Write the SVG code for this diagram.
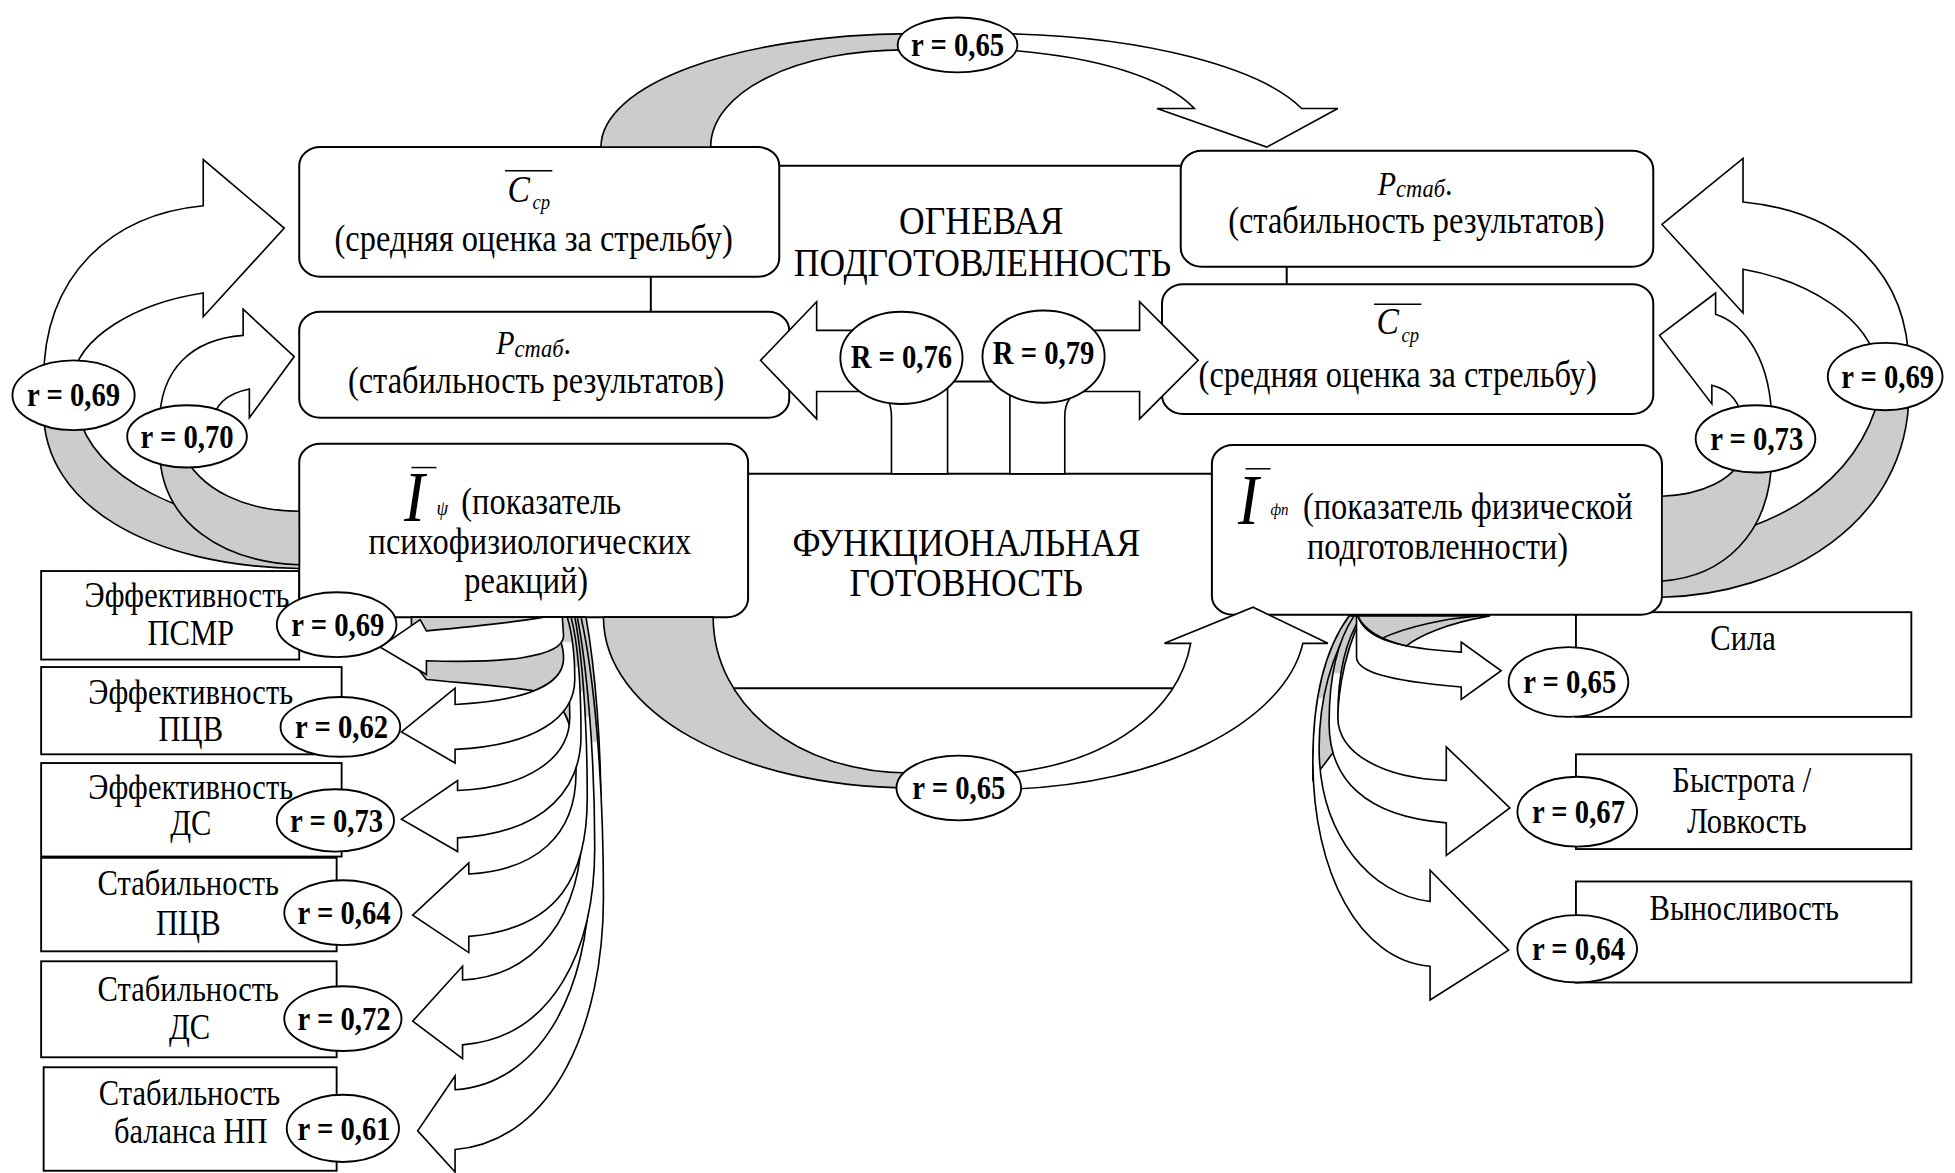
<svg xmlns="http://www.w3.org/2000/svg" width="1955" height="1173" viewBox="0 0 1955 1173">
<defs>
<style>
.box{fill:#fff;stroke:#000;stroke-width:1.6}
.rc{fill:#fff;stroke:#000;stroke-width:1.5}
.ln{fill:none;stroke:#000;stroke-width:1.6}
.ol{fill:none;stroke:#000;stroke-width:1.2}
.aw{fill:#fff;stroke:#000;stroke-width:1.3;stroke-linejoin:miter}
.ag{fill:#cccccc;stroke:#000;stroke-width:1.3}
.el{fill:#fff;stroke:#000;stroke-width:1.5}
text{font-family:"Liberation Serif","Times New Roman",serif;fill:#000}
.t{font-size:26px;text-anchor:middle}
.ts{font-size:26px}
.h{font-size:28.5px;text-anchor:middle}
.s{font-size:24.5px;text-anchor:middle}
.lb{font-size:23px;font-weight:bold;text-anchor:middle}
.i{font-style:italic}
</style>
<linearGradient id="gL2" gradientUnits="userSpaceOnUse" x1="0" y1="514" x2="0" y2="516"><stop offset="0" stop-color="#ccc"/><stop offset="1" stop-color="#fff"/></linearGradient>
<linearGradient id="gL3" gradientUnits="userSpaceOnUse" x1="0" y1="534" x2="0" y2="536"><stop offset="0" stop-color="#ccc"/><stop offset="1" stop-color="#fff"/></linearGradient>
<linearGradient id="gL4" gradientUnits="userSpaceOnUse" x1="0" y1="554" x2="0" y2="556"><stop offset="0" stop-color="#ccc"/><stop offset="1" stop-color="#fff"/></linearGradient>
<linearGradient id="gL5" gradientUnits="userSpaceOnUse" x1="0" y1="574" x2="0" y2="576"><stop offset="0" stop-color="#ccc"/><stop offset="1" stop-color="#fff"/></linearGradient>
<linearGradient id="gL6" gradientUnits="userSpaceOnUse" x1="0" y1="594" x2="0" y2="596"><stop offset="0" stop-color="#ccc"/><stop offset="1" stop-color="#fff"/></linearGradient>
<linearGradient id="gR2" gradientUnits="userSpaceOnUse" x1="0" y1="539" x2="0" y2="541"><stop offset="0" stop-color="#ccc"/><stop offset="1" stop-color="#fff"/></linearGradient>
<linearGradient id="gR3" gradientUnits="userSpaceOnUse" x1="0" y1="559" x2="0" y2="561"><stop offset="0" stop-color="#ccc"/><stop offset="1" stop-color="#fff"/></linearGradient>
</defs>
<rect width="1955" height="1173" fill="#fff"/>
<g transform="scale(1.2468)">

<!-- side boxes left -->
<g id="n-psmr"><rect class="rc" x="33" y="458" width="207" height="71"/>
<text class="s" transform="matrix(1 0 0 1.15 150 487)">Эффективность</text>
<text class="s" transform="matrix(1 0 0 1.15 153 517)">ПСМР</text></g>
<g id="n-pcv"><rect class="rc" x="33" y="535" width="241" height="70"/>
<text class="s" transform="matrix(1 0 0 1.15 153 565)">Эффективность</text>
<text class="s" transform="matrix(1 0 0 1.15 153 594)">ПЦВ</text></g>
<g id="n-ds"><rect class="rc" x="33" y="612" width="241" height="75"/>
<text class="s" transform="matrix(1 0 0 1.15 153 641)">Эффективность</text>
<text class="s" transform="matrix(1 0 0 1.15 153 670)">ДС</text></g>
<g id="n-spcv"><rect class="rc" x="33" y="688" width="237" height="75"/>
<text class="s" transform="matrix(1 0 0 1.15 151 718)">Стабильность</text>
<text class="s" transform="matrix(1 0 0 1.15 151 750)">ПЦВ</text></g>
<g id="n-sds"><rect class="rc" x="33" y="771" width="237" height="77"/>
<text class="s" transform="matrix(1 0 0 1.15 151 803)">Стабильность</text>
<text class="s" transform="matrix(1 0 0 1.15 152 833)">ДС</text></g>
<g id="n-snp"><rect class="rc" x="35" y="856" width="235" height="83"/>
<text class="s" transform="matrix(1 0 0 1.15 152 886)">Стабильность</text>
<text class="s" transform="matrix(1 0 0 1.15 153 917)">баланса НП</text></g>

<!-- side boxes right -->
<g id="n-sila"><rect class="rc" x="1264" y="491" width="269" height="84"/>
<text class="s" transform="matrix(1 0 0 1.15 1398 521)">Сила</text></g>
<g id="n-bystr"><rect class="rc" x="1264" y="605" width="269" height="76"/>
<text class="s" transform="matrix(1 0 0 1.15 1397 635)">Быстрота /</text>
<text class="s" transform="matrix(1 0 0 1.15 1401 668)">Ловкость</text></g>
<g id="n-vyn"><rect class="rc" x="1264" y="707" width="269" height="81"/>
<text class="s" transform="matrix(1 0 0 1.15 1399 738)">Выносливость</text></g>

<!-- main boxes -->
<g id="n-A"><rect class="box" x="240" y="118" width="385" height="104" rx="17" ry="15"/>
<text class="i" font-size="27" transform="matrix(1 0 0 1.15 407 162)">C</text>
<text class="i" font-size="15" transform="matrix(1 0 0 1.15 427 168)">ср</text>
<line class="ol" x1="405" y1="137" x2="443" y2="137"/>
<text class="t" transform="matrix(1 0 0 1.15 428 201)">(средняя оценка за стрельбу)</text></g>

<g id="n-B"><rect class="box" x="240" y="250" width="393" height="85" rx="17" ry="15"/>
<text class="i" transform="matrix(1 0 0 1.15 398 284)"><tspan font-size="24">P</tspan><tspan font-size="18" dy="2">стаб</tspan><tspan font-size="24" dy="-2" font-style="normal">.</tspan></text>
<text class="t" transform="matrix(1 0 0 1.15 430 315)">(стабильность результатов)</text></g>

<g id="n-C"><rect class="box" x="240" y="356" width="360" height="139" rx="17" ry="15"/>
<text class="i" font-size="50" transform="matrix(1 0 0 1.15 324 418)">I</text>
<line class="ol" x1="330" y1="375" x2="350" y2="375"/>
<text class="i" font-size="15" transform="matrix(1 0 0 1.15 350 413)">ψ</text>
<text class="ts" transform="matrix(1 0 0 1.15 370 412)">(показатель</text>
<text class="t" transform="matrix(1 0 0 1.15 425 444)">психофизиологических</text>
<text class="t" transform="matrix(1 0 0 1.15 422 476)">реакций)</text></g>

<g id="n-D"><rect class="box" x="947" y="121" width="379" height="93" rx="17" ry="15"/>
<text class="i" transform="matrix(1 0 0 1.15 1105 156)"><tspan font-size="24">P</tspan><tspan font-size="18" dy="2">стаб</tspan><tspan font-size="24" dy="-2" font-style="normal">.</tspan></text>
<text class="t" transform="matrix(1 0 0 1.15 1136 187)">(стабильность результатов)</text></g>

<g id="n-E"><rect class="box" x="932" y="228" width="394" height="104" rx="17" ry="15"/>
<text class="i" font-size="27" transform="matrix(1 0 0 1.15 1104 268)">C</text>
<text class="i" font-size="15" transform="matrix(1 0 0 1.15 1124 274)">ср</text>
<line class="ol" x1="1102" y1="244" x2="1140" y2="244"/>
<text class="t" transform="matrix(1 0 0 1.15 1121 310)">(средняя оценка за стрельбу)</text></g>

<g id="n-F"><rect class="box" x="972" y="357" width="361" height="136" rx="17" ry="15"/>
<text class="i" font-size="50" transform="matrix(1 0 0 1.15 993 420)">I</text>
<line class="ol" x1="999" y1="376" x2="1019" y2="376"/>
<text class="i" font-size="12" transform="matrix(1 0 0 1.15 1019 413)">фп</text>
<text class="ts" transform="matrix(1 0 0 1.15 1045 416)">(показатель физической</text>
<text class="t" transform="matrix(1 0 0 1.15 1153 448)">подготовленности)</text></g>

<g id="n-ogn">
<text class="h" transform="matrix(1 0 0 1.15 787 188)">ОГНЕВАЯ</text>
<text class="h" transform="matrix(1 0 0 1.15 788 221)">ПОДГОТОВЛЕННОСТЬ</text></g>
<g id="n-func">
<text class="h" transform="matrix(1 0 0 1.15 775 446)">ФУНКЦИОНАЛЬНАЯ</text>
<text class="h" transform="matrix(1 0 0 1.15 775 478)">ГОТОВНОСТЬ</text></g>

<g id="connectors">
<path class="ln" d="M625,133 H947 M522,222 V250 M1032,214 V228 M600,380 H972 M575,552 H950 M760,306 H800"/>
<!-- top arrow -->
<path class="ag" d="M482,118 C482,68 589,28 730,27 L730,40 C638,39 570,74 570,118 Z"/>
<path class="aw" d="M805,27 C920,29 1012,55 1044,87 L1073,87 L1016,118 L928,87 L958,87 C935,63 880,45 805,40 Z"/>
<!-- bottom arrow -->
<path class="ag" d="M484,495 C484,571 591,631 730,632 L730,620 C639,620 572,565 572,495 Z"/>
<path class="aw" d="M808,633 C930,630 1030,580 1045,516 L1065,516 L1005,487 L934,516 L955,516 C945,570 890,612 808,620 Z"/>
<!-- left big arrows -->
<path class="ag" d="M35,330 C35,405 120,454 240,456 L240,424 C150,420 75,385 62,330 Z"/>
<path class="aw" d="M35,305 C35,220 90,172 163,165 L163,128 L228,183 L163,254 L163,235 C110,243 62,270 58,305 Z"/>
<path class="ag" d="M128,360 C128,420 180,451 240,453 L240,410 C200,410 160,395 145,360 Z"/>
<path class="aw" d="M128,340 C128,295 155,272 195,269 L195,248 L236,286 L200,335 L200,312 C185,315 172,322 170,340 Z"/>
<!-- right big arrows -->
<path class="ag" d="M1531,315 C1531,420 1430,477 1333,479 L1333,437 C1420,430 1490,390 1508,315 Z"/>
<path class="aw" d="M1531,295 C1531,220 1480,170 1398,162 L1398,127 L1333,180 L1398,251 L1398,216 C1450,225 1500,255 1506,295 Z"/>
<path class="ag" d="M1421,365 C1421,430 1380,463 1333,466 L1333,398 C1365,397 1390,385 1399,365 Z"/>
<path class="aw" d="M1421,340 C1421,290 1400,260 1376,252 L1376,235 L1331,269 L1373,324 L1373,309 C1385,312 1396,320 1398,340 Z"/>
<!-- R arrows -->
<path class="aw" d="M760,380 L760,305 L700,265 L655,265 L655,242 L610,289 L655,336 L655,314 L700,314 C710,314 715,322 715,334 L715,380 Z"/>
<path class="aw" d="M810,380 L810,305 L870,265 L914,265 L914,242 L961,289 L914,336 L914,314 L870,314 C860,314 854,322 854,334 L854,380 Z"/>
<!-- left bundle -->
<path class="ag" d="M330,495 L470,495 C478,540 482,600 482,650 L470,650 C465,600 455,565 440,556 C410,550 370,548 342,545 L330,530 Z"/>
<path class="aw" fill="url(#gL6)" style="fill:url(#gL6)" d="M452,495 C467,550 473,640 473,700 C473,800 430,870 365,874 L365,863 L335,907 L365,940 L365,922 C445,915 484,820 484,720 C484,620 476,540 466,495 Z"/>
<path class="aw" style="fill:url(#gL5)" d="M450,495 C463,540 467,610 467,660 C467,735 430,783 371,786 L371,775 L331,819 L371,849 L371,838 C445,832 477,760 477,680 C477,600 470,530 463,495 Z"/>
<path class="aw" style="fill:url(#gL4)" d="M447,495 C458,530 462,580 462,620 C462,670 430,698 376,701 L376,692 L331,734 L376,764 L376,751 C450,745 471,700 471,640 C471,570 466,520 461,495 Z"/>
<path class="aw" style="fill:url(#gL3)" d="M444,495 C452,515 457,545 457,575 C457,610 420,632 367,634 L367,626 L322,657 L367,683 L367,672 C440,668 466,630 466,590 C466,540 462,510 458,495 Z"/>
<path class="aw" style="fill:url(#gL2)" d="M441,495 C446,505 452,515 452,528 C452,550 420,562 365,565 L365,552 L322,587 L365,612 L365,601 C430,598 461,575 461,545 C461,520 458,505 455,495 Z"/>
<path class="aw" d="M436,495 C420,498 385,502 342,506 L337,497 L305,519 L342,541 L342,530 C400,532 452,528 452,510 L451,495 Z"/>
<!-- right bundle -->
<path class="ag" d="M1088,494 C1065,520 1053,560 1053,625 L1072,600 C1072,560 1076,530 1092,494 Z"/>
<path class="aw" style="fill:url(#gR3)" d="M1087,494 C1068,525 1058,560 1058,600 C1058,670 1100,718 1147,723 L1147,698 L1210,762 L1147,802 L1147,775 C1090,770 1053,700 1053,610 C1053,560 1063,520 1082,494 Z"/>
<path class="aw" style="fill:url(#gR2)" d="M1092,494 C1080,512 1073,540 1073,575 C1073,605 1110,624 1160,626 L1160,599 L1211,648 L1160,686 L1160,660 C1095,655 1066,625 1066,580 C1066,540 1074,512 1086,494 Z"/>
<path class="aw" d="M1089,494 C1095,512 1120,520 1172,523 L1172,515 L1204,538 L1172,561 L1172,551 C1110,546 1088,538 1088,527 L1088,494 Z"/>
<path class="ag" d="M1089,494 L1195,494 C1160,500 1138,510 1128,518 C1110,514 1095,507 1089,494 Z"/>
<path class="ol" d="M1108,512 C1130,502 1160,496 1185,494"/>
</g>

<g id="labels">
<g id="lab-top"><ellipse class="el" cx="768" cy="36" rx="48" ry="22"/><text class="lb" transform="matrix(1 0 0 1.15 768 45)">r = 0,65</text></g>
<g id="lab-bot"><ellipse class="el" cx="769" cy="632" rx="50" ry="26"/><text class="lb" transform="matrix(1 0 0 1.15 769 641)">r = 0,65</text></g>
<g id="lab-R76"><ellipse class="el" cx="723" cy="287" rx="49" ry="37"/><text class="lb" transform="matrix(1 0 0 1.15 723 295)">R = 0,76</text></g>
<g id="lab-R79"><ellipse class="el" cx="837" cy="286" rx="49" ry="37"/><text class="lb" transform="matrix(1 0 0 1.15 837 292)">R = 0,79</text></g>
<g id="lab-L69"><ellipse class="el" cx="59" cy="317" rx="49" ry="28"/><text class="lb" transform="matrix(1 0 0 1.15 59 326)">r = 0,69</text></g>
<g id="lab-L70"><ellipse class="el" cx="150" cy="350" rx="48" ry="25"/><text class="lb" transform="matrix(1 0 0 1.15 150 359)">r = 0,70</text></g>
<g id="lab-R69"><ellipse class="el" cx="1512" cy="302" rx="46" ry="27"/><text class="lb" transform="matrix(1 0 0 1.15 1514 311)">r = 0,69</text></g>
<g id="lab-R73"><ellipse class="el" cx="1408" cy="352" rx="48" ry="27"/><text class="lb" transform="matrix(1 0 0 1.15 1409 361)">r = 0,73</text></g>
<g id="lab-b1"><ellipse class="el" cx="270" cy="501" rx="48" ry="26"/><text class="lb" transform="matrix(1 0 0 1.15 271 510)">r = 0,69</text></g>
<g id="lab-b2"><ellipse class="el" cx="273" cy="583" rx="48" ry="24"/><text class="lb" transform="matrix(1 0 0 1.15 274 592)">r = 0,62</text></g>
<g id="lab-b3"><ellipse class="el" cx="269" cy="658" rx="47" ry="25"/><text class="lb" transform="matrix(1 0 0 1.15 270 667)">r = 0,73</text></g>
<g id="lab-b4"><ellipse class="el" cx="275" cy="732" rx="47" ry="26"/><text class="lb" transform="matrix(1 0 0 1.15 276 741)">r = 0,64</text></g>
<g id="lab-b5"><ellipse class="el" cx="275" cy="817" rx="47" ry="26"/><text class="lb" transform="matrix(1 0 0 1.15 276 826)">r = 0,72</text></g>
<g id="lab-b6"><ellipse class="el" cx="275" cy="905" rx="45" ry="27"/><text class="lb" transform="matrix(1 0 0 1.15 276 914)">r = 0,61</text></g>
<g id="lab-r1"><ellipse class="el" cx="1258" cy="547" rx="48" ry="28"/><text class="lb" transform="matrix(1 0 0 1.15 1259 556)">r = 0,65</text></g>
<g id="lab-r2"><ellipse class="el" cx="1265" cy="651" rx="48" ry="28"/><text class="lb" transform="matrix(1 0 0 1.15 1266 660)">r = 0,67</text></g>
<g id="lab-r3"><ellipse class="el" cx="1265" cy="761" rx="48" ry="27"/><text class="lb" transform="matrix(1 0 0 1.15 1266 770)">r = 0,64</text></g>
</g>
</g>
</svg>
